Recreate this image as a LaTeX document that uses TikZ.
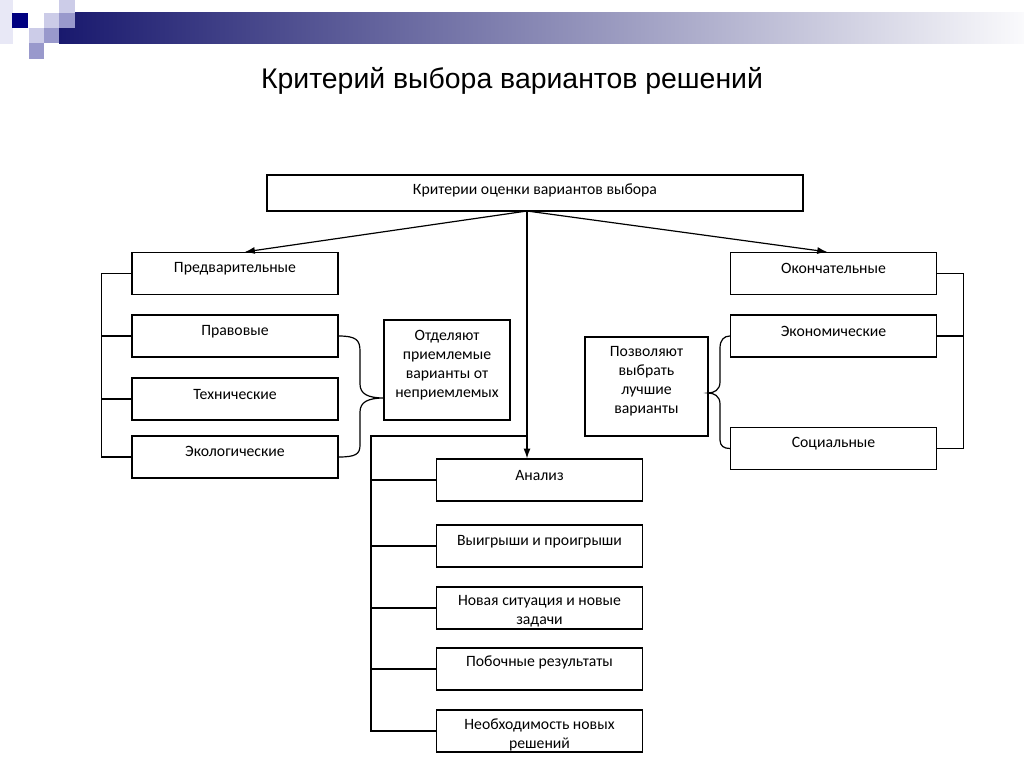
\documentclass[tikz,border=0pt]{standalone}
\usepackage{fontspec}
\setmainfont{Carlito}
\newfontfamily\titlefont{Liberation Sans}
\usetikzlibrary{arrows.meta,positioning}
\definecolor{navyblk}{RGB}{0,0,128}
\definecolor{lavlight}{RGB}{204,204,232}
\definecolor{lavmid}{RGB}{153,153,204}
\definecolor{lavfaint}{RGB}{232,232,246}
\tikzset{box/.style={draw, line width=0.85pt, inner sep=0pt},
cat/.style={box, minimum width=5.15cm, minimum height=1.05cm},
txt/.style={font=\fontsize{11.2}{13.5}\selectfont, align=center, inner sep=0pt},
link/.style={line width=0.85pt},
arr/.style={link, -{Latex[length=7pt,width=5pt]}}}

\begin{document}
\begin{tikzpicture}[x=0.025cm, y=-0.025cm]
        \useasboundingbox (0,0) rectangle (1024,767);
        % header bar
        \shade[left color={rgb,255:red,25;green,25;blue,110}, middle color={rgb,255:red,190;green,190;blue,208},
               right color={rgb,255:red,250;green,250;blue,252}] (59,13) rectangle (1024,44);
        \fill[lavfaint] (0,0) rectangle (13,44);
        \fill[navyblk] (12,13) rectangle (28,28);
        \fill[lavlight] (44,13) rectangle (59,28);
        \fill[lavlight] (59,0) rectangle (75,13);
        \fill[lavmid] (59,13) rectangle (75,28);
        \fill[lavlight] (29,28) rectangle (44,43);
        \fill[lavmid] (44,28) rectangle (59,43);
        \fill[lavmid] (29,43) rectangle (44,59);
        \node[font=\titlefont\fontsize{20.2}{24}\selectfont] (title) at (512,81) {Критерий выбора вариантов решений};

        % boxes
        \node[box, minimum width=13.4cm, minimum height=0.9cm] (top) at (535,193) {};
        \node[cat] (pred) at (235,273.5) {};
        \node[cat] (prav) at (235,336) {};
        \node[cat] (tech) at (235,399) {};
        \node[cat] (ecol) at (235,457) {};
        \node[box, minimum width=3.15cm, minimum height=2.5cm] (otdel) at (447,370) {};
        \node[cat] (okon) at (833.5,273.5) {};
        \node[cat] (econ) at (833.5,336) {};
        \node[cat] (soc) at (833.5,448.5) {};
        \node[box, minimum width=3.075cm, minimum height=2.475cm] (pozv) at (646.5,386.5) {};
        \node[cat] (anal) at (539.5,480) {};
        \node[cat] (vyig) at (539.5,546) {};
        \node[cat] (nov) at (539.5,608) {};
        \node[cat] (pob) at (539.5,669) {};
        \node[cat] (neob) at (539.5,731) {};

        % texts
        \node[txt] (top-t) at (535,190) {Критерии оценки вариантов выбора};
        \node[txt] (pred-t) at (235,268.5) {Предварительные};
        \node[txt] (prav-t) at (235,331.5) {Правовые};
        \node[txt] (tech-t) at (235,394.5) {Технические};
        \node[txt] (ecol-t) at (235,451.5) {Экологические};
        \node[txt] (otdel-t) at (447,365.5) {Отделяют\\приемлемые\\варианты от\\неприемлемых};
        \node[txt] (okon-t) at (833.5,268.5) {Окончательные};
        \node[txt] (econ-t) at (833.5,331.5) {Экономические};
        \node[txt] (soc-t) at (833.5,443.5) {Социальные};
        \node[txt] (pozv-t) at (646.5,381) {Позволяют\\выбрать\\лучшие\\варианты};
        \node[txt] (anal-t) at (539.5,475.5) {Анализ};
        \node[txt] (vyig-t) at (539.5,541.5) {Выигрыши и проигрыши};
        \node[txt] (nov-t) at (539.5,611.5) {Новая ситуация и новые\\задачи};
        \node[txt] (pob-t) at (539.5,662.5) {Побочные результаты};
        \node[txt] (neob-t) at (539.5,735) {Необходимость новых\\решений};

        % arrows from the top box
        \coordinate (hub) at (527,211);
        \draw[arr] (hub) -- ([xshift=0.25cm]pred.north);
        \draw[arr] (hub) -- ([xshift=-0.16cm]okon.north);
        \draw[arr] (hub) -- (hub |- anal.north);

        % left group
        \draw[link] (pred.west) -- ++(-30,0) |- (ecol.west);
        \draw[link] (prav.west) -- ++(-30,0);
        \draw[link] (tech.west) -- ++(-30,0);

        % right group
        \draw[link] (okon.east) -- ++(26,0) |- (soc.east);
        \draw[link] (econ.east) -- ++(26,0);

        % bottom group
        \coordinate (jn) at (527,436);
        \draw[link] (jn) -- ++(-156,0) |- (neob.west);
        \draw[link] (anal.west) -- ++(-66,0);
        \draw[link] (vyig.west) -- ++(-66,0);
        \draw[link] (nov.west) -- ++(-66,0);
        \draw[link] (pob.west) -- ++(-66,0);

        % braces
        \coordinate (tipL) at (384,398);
        \coordinate (tipR) at (708,393);
        \draw[link] (prav.east) .. controls (356,336) and (360,340) .. (360,351) -- (360,384)
              .. controls (360,394) and (368,398) .. (tipL)
              .. controls (368,398) and (360,402) .. (360,412) -- (360,445)
              .. controls (360,454) and (356,457) .. (ecol.east);
        \draw[link] (econ.west) .. controls (724,336) and (720,340) .. (720,348) -- (720,382)
              .. controls (720,390) and (714,393) .. (tipR)
              .. controls (714,393) and (720,396) .. (720,404) -- (720,440)
              .. controls (720,446) and (724,448.5) .. (soc.west);
\end{tikzpicture}
\end{document}
